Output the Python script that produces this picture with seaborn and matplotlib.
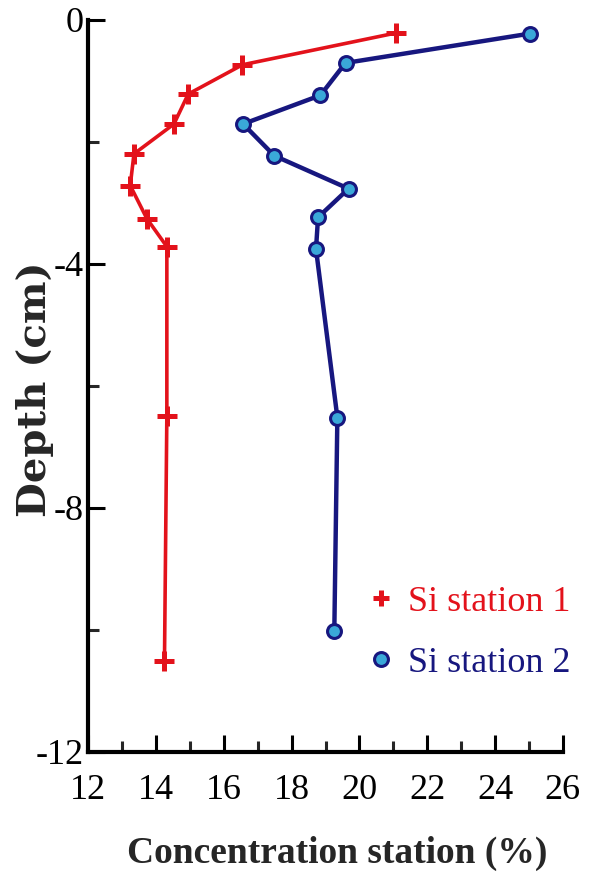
import matplotlib
matplotlib.use("Agg")
import matplotlib.pyplot as plt
import seaborn as sns
import pandas as pd
from matplotlib.ticker import MultipleLocator

# Si concentration profiles (%) against sediment depth (cm)
depth_st1 = [-0.22, -0.74, -1.22, -1.71, -2.20, -2.72, -3.26, -3.72, -6.49, -10.51]
si_st1 = [21.07, 16.55, 14.95, 14.53, 13.35, 13.24, 13.73, 14.32, 14.32, 14.25]

depth_st2 = [-0.23, -0.71, -1.24, -1.71, -2.23, -2.77, -3.24, -3.76, -6.52, -10.02]
si_st2 = [25.02, 19.59, 18.85, 16.57, 17.49, 19.68, 18.78, 18.72, 19.35, 19.26]

series_names = ["Si station 1", "Si station 2"]
x_ticks = [12, 14, 16, 18, 20, 22, 24, 26]
y_ticks = [0, -4, -8, -12]

df = pd.concat([
    pd.DataFrame({"conc": si_st1, "depth": depth_st1, "series": series_names[0]}),
    pd.DataFrame({"conc": si_st2, "depth": depth_st2, "series": series_names[1]}),
], ignore_index=True)

sns.set_style("ticks")
plt.rcParams["font.family"] = ["Liberation Serif", "DejaVu Serif"]
plt.rcParams["axes.unicode_minus"] = False

fig = plt.figure(figsize=(6.0, 8.92), dpi=100)
ax = fig.add_axes([0.147, 0.157, 0.791, 0.821])

red = "#e3121b"
navy = "#17177f"

sns.lineplot(data=df[df.series == series_names[0]], x="conc", y="depth",
             sort=False, estimator=None, color=red, lw=2.6,
             marker="+", markersize=15, markeredgecolor=red,
             markeredgewidth=3.6,
             label=series_names[0], ax=ax)
sns.lineplot(data=df[df.series == series_names[1]], x="conc", y="depth",
             sort=False, estimator=None, color=navy, lw=3.2,
             marker="o", markersize=10, markerfacecolor="#3aa8d8",
             markeredgecolor=navy, markeredgewidth=2.2,
             label=series_names[1], ax=ax)

ax.set_xlim(12, 26)
ax.set_ylim(-12, 0)
ax.set_xticks(x_ticks)
ax.set_yticks(y_ticks)
ax.xaxis.set_minor_locator(MultipleLocator(1))
ax.yaxis.set_minor_locator(MultipleLocator(2))
ax.tick_params(axis="both", which="major", direction="in", length=12,
               width=2.2, labelsize=26, colors="black")
ax.tick_params(axis="both", which="minor", direction="in", length=8, width=2.2)
ax.tick_params(axis="x", which="major", pad=16)
ax.tick_params(axis="y", which="major", pad=3)

for side in ("top", "right"):
    ax.spines[side].set_visible(False)
for side in ("left", "bottom"):
    ax.spines[side].set_linewidth(3)
    ax.spines[side].set_color("black")

ax.set_xlabel("Concentration station (%)", fontsize=27, fontweight="bold")
ax.xaxis.set_label_coords(0.525, -0.115)
ax.set_ylabel("Depth (cm)", fontsize=29, fontweight="bold", family="DejaVu Serif")
ax.yaxis.set_label_coords(-0.072, 0.495)

leg = ax.legend(loc="lower right", bbox_to_anchor=(0.975, 0.2215),
                bbox_transform=fig.transFigure, frameon=False,
                fontsize=26, handlelength=0.6, handletextpad=0.45,
                labelspacing=0.78, labelcolor="linecolor", borderaxespad=0)
for h in leg.legend_handles:
    h.set_linestyle("none")
    h.set_markersize(10 if h.get_marker() == "o" else 12)

fig.savefig("out.png", dpi=100)
